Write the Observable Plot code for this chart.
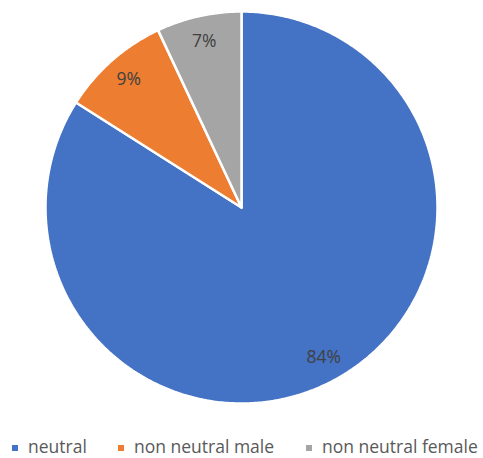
<!DOCTYPE html>
<html>
<head>
<meta charset="utf-8">
<script src="https://cdn.jsdelivr.net/npm/d3@7"></script>
<script src="https://cdn.jsdelivr.net/npm/@observablehq/plot@0.6"></script>
<style>
  html, body { margin: 0; padding: 0; background: #fff; }
  #chart { width: 483px; }
  .legend { height: 24px; margin-top: 14px; font-family: "Open Sans", sans-serif; font-size: 17.5px; color: #595959; position: relative; }
  .legend .item { display: flex; align-items: center; position: absolute; top: 0; white-space: nowrap; }
  .legend .sw { width: 6px; height: 6px; margin-right: 10px; margin-top: 4px; }
</style>
</head>
<body>
<div id="chart"></div>
<script>
const categories = ["neutral", "non neutral male", "non neutral female"];
const values = [84, 9, 7];
const labels = ["84%", "9%", "7%"];
const colors = ["#4472C4", "#ED7D31", "#A5A5A5"];

const pie = d3.pie().sort(null).value(d => d)(values);
// pie angles: clockwise from 12 o'clock
const poly = [];
pie.forEach((p, i) => {
  const n = Math.max(2, Math.ceil((p.endAngle - p.startAngle) / 0.01));
  poly.push({cat: categories[i], x: 0, y: 0});
  for (let k = 0; k <= n; k++) {
    const a = p.startAngle + (p.endAngle - p.startAngle) * k / n;
    poly.push({cat: categories[i], x: Math.sin(a), y: Math.cos(a)});
  }
  poly.push({cat: categories[i], x: 0, y: 0});
});
const labelData = pie.map((p, i) => {
  const a = (p.startAngle + p.endAngle) / 2;
  return {label: labels[i], x: 0.87 * Math.sin(a), y: 0.87 * Math.cos(a)};
});

const chart = Plot.plot({
  width: 483,
  height: 420,
  marginLeft: 45,
  marginRight: 46,
  marginTop: 11,
  marginBottom: 17,
  x: {domain: [-1, 1], axis: null},
  y: {domain: [-1, 1], axis: null},
  color: {domain: categories, range: colors},
  style: {fontFamily: "Open Sans, sans-serif"},
  marks: [
    Plot.line(poly, {x: "x", y: "y", z: "cat", fill: "cat", stroke: "white", strokeWidth: 2.5, strokeLinejoin: "miter", curve: "linear"}),
    Plot.text(labelData, {x: "x", y: "y", text: "label", fill: "#404040", fontSize: 17.5})
  ]
});
document.getElementById("chart").appendChild(chart);

const legend = document.createElement("div");
legend.className = "legend";
const lefts = [12, 118, 306];
categories.forEach((c, i) => {
  const item = document.createElement("div");
  item.className = "item";
  item.style.left = lefts[i] + "px";
  const sw = document.createElement("span");
  sw.className = "sw";
  sw.style.background = colors[i];
  item.appendChild(sw);
  const t = document.createElement("span");
  t.textContent = c;
  item.appendChild(t);
  legend.appendChild(item);
});
document.getElementById("chart").appendChild(legend);
</script>
</body>
</html>
